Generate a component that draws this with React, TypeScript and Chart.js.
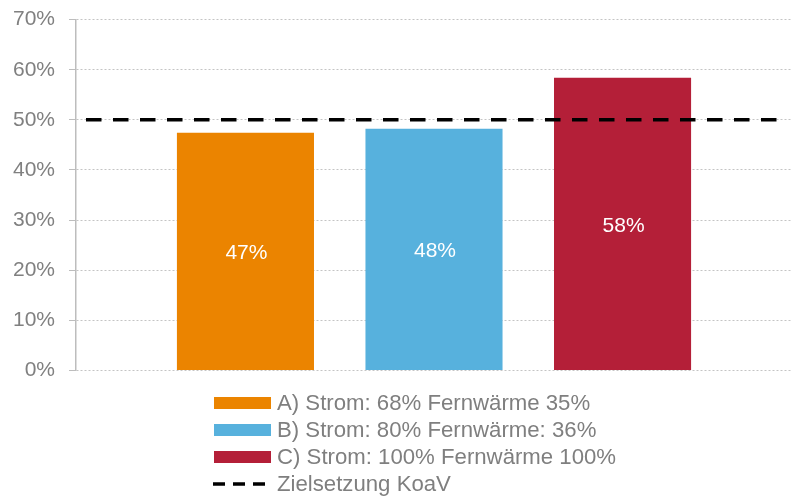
import React, { useEffect, useRef } from "react";
import { Chart, registerables } from "chart.js";

Chart.register(...registerables);

const categories = [""];
const seriesLabels = [
  "A) Strom: 68% Fernwärme 35%",
  "B) Strom: 80% Fernwärme: 36%",
  "C) Strom: 100% Fernwärme 100%",
];
const seriesValues = [47.4, 48.2, 58.4];
const seriesColors = ["#EB8400", "#57B1DD", "#B41F38"];
const targetLabel = "Zielsetzung KoaV";
const targetValue = 50;
const yTicks = [0, 10, 20, 30, 40, 50, 60, 70];

const FONT = "'Liberation Sans', Arial, sans-serif";

const barLabelPlugin = {
  id: "barLabels",
  afterDatasetsDraw(chart: any) {
    const ctx = chart.ctx;
    ctx.save();
    ctx.fillStyle = "#ffffff";
    ctx.font = `21px ${FONT}`;
    ctx.textAlign = "center";
    ctx.textBaseline = "middle";
    chart.data.datasets.forEach((ds: any, i: number) => {
      const meta = chart.getDatasetMeta(i);
      meta.data.forEach((el: any, j: number) => {
        const v = ds.data[j];
        const y = (el.y + el.base) / 2 + 2;
        ctx.fillText(`${Math.round(v)}%`, el.x + 1, y);
      });
    });
    ctx.restore();
  },
};

const targetLinePlugin = {
  id: "targetLine",
  afterDatasetsDraw(chart: any) {
    const { ctx, chartArea, scales } = chart;
    const y = scales.y.getPixelForValue(targetValue);
    ctx.save();
    ctx.strokeStyle = "#000000";
    ctx.lineWidth = 3.5;
    ctx.setLineDash([15.5, 11.5]);
    ctx.beginPath();
    ctx.moveTo(chartArea.left + 10, y);
    ctx.lineTo(chartArea.right - 15, y);
    ctx.stroke();
    ctx.restore();
  },
};

export default function App() {
  const ref = useRef<HTMLCanvasElement>(null);
  useEffect(() => {
    if (!ref.current) return;
    const datasets: any[] = seriesLabels.map((label, i) => ({
      label,
      data: [seriesValues[i]],
      backgroundColor: seriesColors[i],
      borderWidth: 0,
      categoryPercentage: 0.79,
      barPercentage: 0.727,
    }));
    const chart = new Chart(ref.current, {
      type: "bar",
      data: { labels: categories, datasets },
      options: {
        animation: false,
        responsive: false,
        devicePixelRatio: 1,
        layout: { padding: { left: 0, right: 0, top: 0, bottom: 0 } },
        plugins: { legend: { display: false }, tooltip: { enabled: false } },
        scales: {
          x: { type: "category", display: false, offset: true },
          y: {
            min: 0,
            max: 70,
            afterFit: (s: any) => {
              s.width = 76;
            },
            afterBuildTicks: (s: any) => {
              s.ticks = yTicks.map((v) => ({ value: v }));
            },
            ticks: {
              padding: 14,
              color: "#808080",
              font: { family: FONT, size: 21 },
              callback: (v: any) => `${v}%`,
            },
            grid: {
              color: "#c4c4c4",
              lineWidth: 1,
              tickLength: 7,
              tickColor: "#bdbdbd",
              tickBorderDash: [],
            },
            border: { display: true, color: "#bdbdbd", width: 1.5, dash: [2, 2] },
          },
        },
      },
      plugins: [barLabelPlugin, targetLinePlugin],
    } as any);
    return () => chart.destroy();
  }, []);

  const rowTop = 391;
  const rowH = 27;
  const textStyle: React.CSSProperties = {
    position: "absolute",
    left: 277,
    fontFamily: FONT,
    fontSize: 22.2,
    color: "#7f7f7f",
    lineHeight: "26px",
    whiteSpace: "nowrap",
  };
  return (
    <div style={{ position: "absolute", left: 0, top: 0, width: 792, height: 496, background: "#fff", overflow: "hidden" }}>
      <canvas ref={ref} width={792} height={404} style={{ position: "absolute", left: 0, top: -7 }} />
      {seriesLabels.map((label, i) => (
        <React.Fragment key={label}>
          <div
            style={{
              position: "absolute",
              left: 214,
              top: rowTop + i * rowH + 6,
              width: 57,
              height: 12,
              background: seriesColors[i],
            }}
          />
          <div style={{ ...textStyle, top: rowTop + i * rowH - 1 }}>{label}</div>
        </React.Fragment>
      ))}
      <svg
        style={{ position: "absolute", left: 213, top: rowTop + 3 * rowH + 10 }}
        width={58}
        height={4}
      >
        <line x1={0} y1={2} x2={58} y2={2} stroke="#000" strokeWidth={3.5} strokeDasharray="12 8" />
      </svg>
      <div style={{ ...textStyle, top: rowTop + 3 * rowH - 1 }}>{targetLabel}</div>
    </div>
  );
}
